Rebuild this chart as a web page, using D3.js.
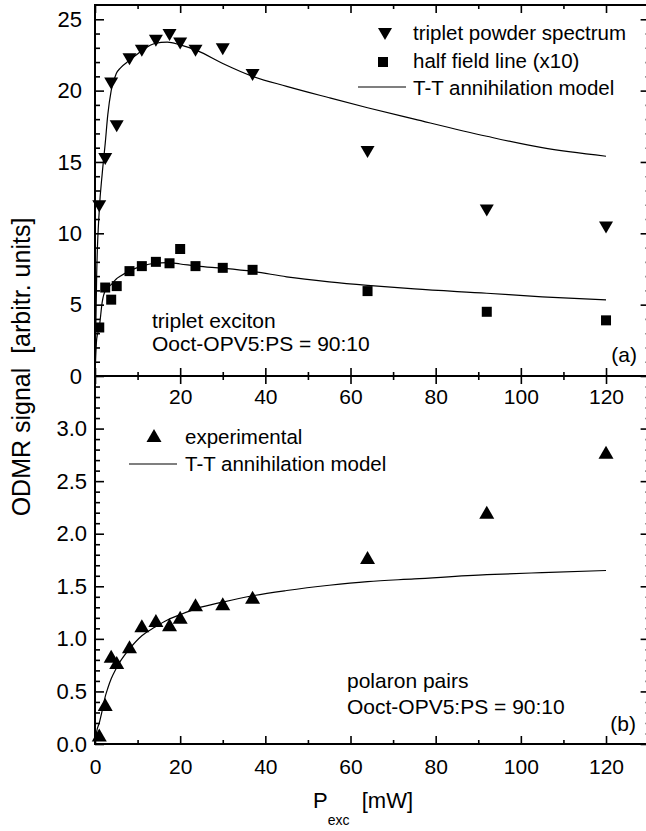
<!DOCTYPE html>
<html>
<head>
<meta charset="utf-8">
<script src="https://cdn.jsdelivr.net/npm/d3@7"></script>
<style>
  body { margin: 0; background: #fff; }
  svg { display: block; font-family: "Liberation Sans", Arial, Helvetica, sans-serif; }
</style>
</head>
<body>
<div id="chart"></div>
<script>
// excitation power (mW), shared by all measured series
const pExc = [1, 2.4, 3.8, 5.1, 8.1, 11, 14.3, 17.5, 20, 23.6, 30, 37, 64, 92, 120];
const tripletPowder = [11.9, 15.2, 20.5, 17.5, 22.2, 22.8, 23.5, 23.9, 23.3, 22.8, 22.9, 21.1, 15.7, 11.6, 10.4];
const halfField = [3.4, 6.2, 5.35, 6.3, 7.35, 7.7, 8.0, 7.9, 8.9, 7.7, 7.58, 7.44, 5.95, 4.5, 3.9];
const polaron = [0.08, 0.37, 0.83, 0.77, 0.92, 1.12, 1.17, 1.13, 1.2, 1.32, 1.33, 1.39, 1.77, 2.2, 2.77];

// T-T annihilation model
const modelP = [0, 0.4, 1, 1.7, 2.4, 3, 3.8, 5, 6, 8, 11, 14, 17, 20, 24, 30, 37, 45, 55, 64, 75, 92, 105, 120];
const modelTriplet = [0, 7.2, 11.6, 14.2, 16.3, 18.3, 20.0, 21.2, 21.6, 22.1, 22.8, 23.3, 23.4, 23.2, 22.8, 21.9, 21.0, 20.3, 19.5, 18.8, 18.0, 16.8, 16.0, 15.4];
const modelHalf = [0, 2.6, 3.4, 5.2, 6.0, 6.2, 6.4, 6.8, 7.0, 7.35, 7.7, 7.9, 7.95, 7.85, 7.7, 7.55, 7.33, 6.95, 6.6, 6.35, 6.1, 5.8, 5.55, 5.33];
const modelPolaron = [0, 0.12, 0.2, 0.32, 0.45, 0.53, 0.62, 0.72, 0.79, 0.9, 1.03, 1.11, 1.18, 1.23, 1.29, 1.35, 1.41, 1.46, 1.51, 1.545, 1.57, 1.61, 1.63, 1.65];

const xMajor = [0, 20, 40, 60, 80, 100, 120];
const xMinor = [10, 30, 50, 70, 90, 110];
const yTopMajor = [0, 5, 10, 15, 20, 25];
const yBotMajor = [0, 0.5, 1, 1.5, 2, 2.5, 3];

const W = 646, H = 831;
const svg = d3.select("#chart").append("svg").attr("width", W).attr("height", H);

const x = d3.scaleLinear([0, 130], [95, 648.6]);
const yTop = d3.scaleLinear([0, 26], [376, 5]);
const yBot = d3.scaleLinear([0, 3.5], [744, 376]);

const yTopMinor = d3.range(1, 26).filter(v => v % 5 !== 0);
const yBotMinor = d3.range(1, 35).map(v => v / 10).filter(v => Math.round(v * 10) % 5 !== 0);

function ticks(axis, pos, major, minor, bigSize, smallSize, fmt, pad, fontSize) {
  const g = svg.append("g").attr("transform", pos);
  g.call(axis.tickValues(major).tickSize(bigSize).tickPadding(pad).tickFormat(fmt));
  const m = svg.append("g").attr("transform", pos);
  m.call(axis.tickValues(minor).tickSize(smallSize).tickFormat(""));
  [g, m].forEach(s => {
    s.select(".domain").remove();
    s.selectAll("line").attr("stroke", "#000").attr("stroke-width", 1.6);
    s.selectAll("text").attr("fill", "#000").attr("font-size", fontSize).attr("font-family", null);
  });
}

const none = () => "";
// top panel
ticks(d3.axisBottom(x), "translate(0,376)", xMajor, xMinor, -8, -4, d => d === 0 ? "" : d, 13, 21);
ticks(d3.axisTop(x), "translate(0,5)", xMajor, xMinor, -8, -4, none, 0, 21);
ticks(d3.axisLeft(yTop), "translate(95,0)", yTopMajor, yTopMinor, -9, -5, d => d, 13, 22);
ticks(d3.axisRight(yTop), "translate(648.6,0)", yTopMajor, yTopMinor, -8, -3, none, 0, 22);
// bottom panel
ticks(d3.axisBottom(x), "translate(0,744)", xMajor, xMinor, -8, -4, d => d, 15, 21);
ticks(d3.axisTop(x), "translate(0,376)", xMajor, xMinor, -8, -4, none, 0, 21);
ticks(d3.axisLeft(yBot), "translate(95,0)", yBotMajor, yBotMinor, -9, -5, d3.format(".1f"), 8, 22);
ticks(d3.axisRight(yBot), "translate(648.6,0)", yBotMajor, yBotMinor, -8, -3, none, 0, 22);

// frames
[[yTop(26), yTop(0)], [yBot(3.5), yBot(0)]].forEach(([t, b]) => {
  svg.append("rect").attr("x", x(0)).attr("y", t).attr("width", x(130) - x(0)).attr("height", b - t)
    .attr("fill", "none").attr("stroke", "#000").attr("stroke-width", 2);
});

// model curves
function model(ys, yScale) {
  const line = d3.line().x(d => x(d[0])).y(d => yScale(d[1])).curve(d3.curveMonotoneX);
  svg.append("path").attr("d", line(d3.zip(modelP, ys)))
    .attr("fill", "none").attr("stroke", "#000").attr("stroke-width", 1.2);
}
model(modelTriplet, yTop);
model(modelHalf, yTop);
model(modelPolaron, yBot);

const downTri = (cx, cy) => `M${cx - 7},${cy - 6}L${cx + 7},${cy - 6}L${cx},${cy + 6}Z`;
const upTri = (cx, cy) => `M${cx - 7.5},${cy + 6}L${cx + 7.5},${cy + 6}L${cx},${cy - 7}Z`;

svg.append("g").selectAll("path").data(d3.zip(pExc, tripletPowder)).join("path")
  .attr("d", d => downTri(x(d[0]), yTop(d[1]))).attr("fill", "#000");
svg.append("g").selectAll("rect").data(d3.zip(pExc, halfField)).join("rect")
  .attr("x", d => x(d[0]) - 5).attr("y", d => yTop(d[1]) - 5)
  .attr("width", 10).attr("height", 10).attr("fill", "#000");
svg.append("g").selectAll("path").data(d3.zip(pExc, polaron)).join("path")
  .attr("d", d => upTri(x(d[0]), yBot(d[1]))).attr("fill", "#000");

function label(tx, ty, s, size, anchor) {
  return svg.append("text").attr("x", tx).attr("y", ty).attr("font-size", size)
    .attr("text-anchor", anchor || "start").attr("fill", "#000").text(s);
}

// top legend
svg.append("path").attr("d", downTri(385, 34)).attr("fill", "#000");
label(413, 40, "triplet powder spectrum", 20.5);
svg.append("rect").attr("x", 378).attr("y", 57).attr("width", 10).attr("height", 10).attr("fill", "#000");
label(413, 68, "half field line (x10)", 20.5);
svg.append("line").attr("x1", 358).attr("x2", 406).attr("y1", 87).attr("y2", 87).attr("stroke", "#000").attr("stroke-width", 1.2);
label(413, 95, "T-T annihilation model", 20.5);

// bottom legend
svg.append("path").attr("d", upTri(154, 436)).attr("fill", "#000");
label(185, 444, "experimental", 20.5);
svg.append("line").attr("x1", 129).attr("x2", 177).attr("y1", 464).attr("y2", 464).attr("stroke", "#000").attr("stroke-width", 1.2);
label(185, 471, "T-T annihilation model", 20.5);

// annotations
label(152, 328, "triplet exciton", 21);
label(152, 351, "Ooct-OPV5:PS = 90:10", 21);
label(637, 362, "(a)", 21, "end");
label(347, 688, "polaron pairs", 21);
label(347, 714, "Ooct-OPV5:PS = 90:10", 21);
label(636, 731, "(b)", 21, "end");

// axis titles
svg.append("text").attr("transform", "translate(30,367) rotate(-90)")
  .attr("text-anchor", "middle").attr("font-size", 25).attr("fill", "#000")
  .text("ODMR signal  [arbitr. units]").attr("xml:space", "preserve").style("white-space", "pre");
const xt = svg.append("text").attr("x", 313).attr("y", 808).attr("font-size", 22).attr("fill", "#000").style("white-space", "pre");
xt.append("tspan").text("P");
xt.append("tspan").attr("font-size", 14).attr("dy", 17).text("exc");
xt.append("tspan").attr("dy", -17).text("  [mW]");
</script>
</body>
</html>
